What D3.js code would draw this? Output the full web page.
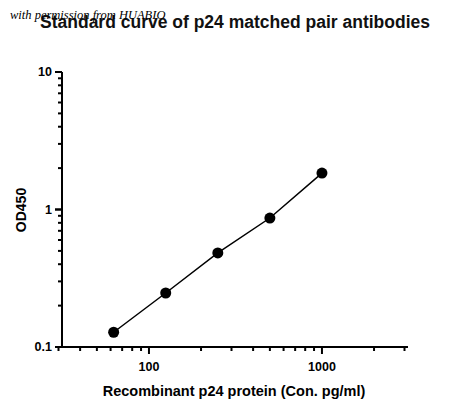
<!DOCTYPE html>
<html>
<head>
<meta charset="utf-8">
<script src="https://d3js.org/d3.v7.js"></script>
<style>body{margin:0;background:#fff;} text{font-family:"Liberation Sans",Arial,sans-serif;}</style>
</head>
<body>
<script>
var conc = [62.5, 125, 250, 500, 1000];
var od = [0.128, 0.247, 0.483, 0.867, 1.84];
var yMajor = [0.1, 1, 10];
var xMajor = [100, 1000];

var w = 450, h = 411;
var svg = d3.select("body").append("svg").attr("width", w).attr("height", h);

var x = d3.scaleLog().domain([30, 3000]).range([58.5, 404.5]);
var y = d3.scaleLog().domain([0.1, 10]).range([347, 72]);
var x0 = 62;

// minor ticks
var xMinor = [], yMinor = [];
[10, 100, 1000].forEach(function(d){ for (var k = 1; k < 10; k++) { var v = d*k; if (v >= 30 && v <= 3000) xMinor.push(v); } });
[0.1, 1].forEach(function(d){ for (var k = 1; k <= 10; k++) yMinor.push(d*k); });

var g = svg.append("g").attr("stroke", "#000").attr("stroke-width", 2);
g.append("line").attr("x1", 57).attr("x2", 408).attr("y1", 347).attr("y2", 347);
g.append("line").attr("x1", x0).attr("x2", x0).attr("y1", 72).attr("y2", 347);
g.selectAll(".xt").data(xMinor).enter().append("line")
  .attr("x1", d => x(d)).attr("x2", d => x(d)).attr("y1", 347)
  .attr("y2", d => xMajor.indexOf(d) >= 0 ? 354 : 351);
g.selectAll(".yt").data(yMinor).enter().append("line")
  .attr("y1", d => y(d)).attr("y2", d => y(d)).attr("x1", x0)
  .attr("x2", d => yMajor.indexOf(d) >= 0 ? 55 : 58);

svg.selectAll(".xl").data(xMajor).enter().append("text")
  .attr("x", d => x(d)).attr("y", 371).attr("text-anchor", "middle")
  .attr("font-size", 12.5).attr("font-weight", "bold").text(d => d);
svg.selectAll(".yl").data(yMajor).enter().append("text")
  .attr("x", 52).attr("y", d => y(d) + 4).attr("text-anchor", "end")
  .attr("font-size", 12.5).attr("font-weight", "bold").text(d => d);

var line = d3.line().x((d, i) => x(conc[i])).y(d => y(d));
svg.append("path").datum(od).attr("d", line).attr("fill", "none")
  .attr("stroke", "#000").attr("stroke-width", 1.5);
svg.selectAll("circle").data(od).enter().append("circle")
  .attr("cx", (d, i) => x(conc[i])).attr("cy", d => y(d)).attr("r", 5.5).attr("fill", "#000");

svg.append("text").attr("x", 234).attr("y", 396).attr("text-anchor", "middle")
  .attr("font-size", 14.5).attr("font-weight", "bold").text("Recombinant p24 protein (Con. pg/ml)");
svg.append("text").attr("transform", "translate(26,210) rotate(-90)").attr("text-anchor", "middle")
  .attr("font-size", 14).attr("font-weight", "bold").text("OD450");
svg.append("text").attr("x", 235).attr("y", 28).attr("text-anchor", "middle")
  .attr("font-size", 17.5).attr("font-weight", "bold").attr("fill", "#111")
  .text("Standard curve of p24 matched pair antibodies");
svg.append("text").attr("x", 10).attr("y", 19).attr("font-size", 12.5)
  .attr("font-style", "italic").attr("style", "font-family:'Liberation Serif',serif")
  .text("with permission from HUABIO");
</script>
</body>
</html>
